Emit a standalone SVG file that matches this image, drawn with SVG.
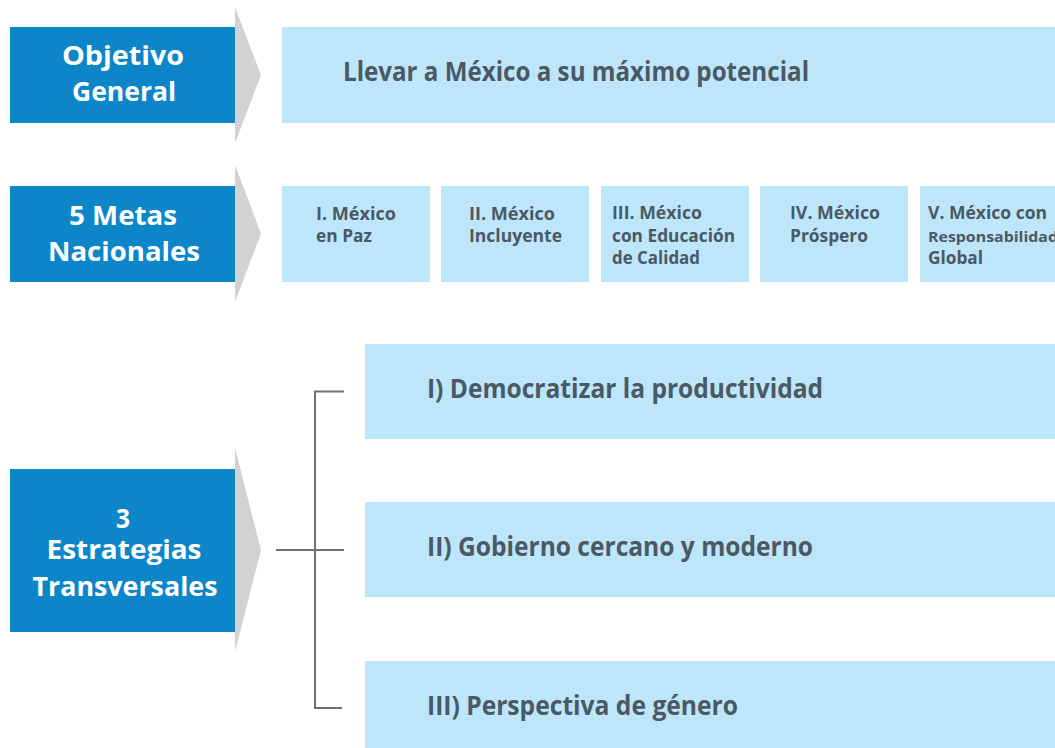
<svg xmlns="http://www.w3.org/2000/svg" width="1055" height="748" viewBox="0 0 1055 748">
<style>
.hd{fill:#0c86c8}
.tri{fill:#d2d2d2}
.lb{fill:#bee6fa}
.ht{font-family:"Open Sans",Lato,"Liberation Sans",sans-serif;font-weight:700;font-size:27px;fill:#ffffff;text-anchor:middle}
.bt{font-family:"Open Sans",Lato,"Liberation Sans",sans-serif;font-weight:700;font-size:26px;fill:#4a5963}
.st{font-family:"Open Sans",Lato,"Liberation Sans",sans-serif;font-weight:700;font-size:17px;fill:#4a5963}
.ln{stroke:#707070;stroke-width:2;fill:none}
</style>
<rect width="1055" height="748" fill="#ffffff"/>
<g id="objetivo-general">
<rect class="hd" x="10" y="27" width="225" height="96"/>
<polygon class="tri" points="235,7 261,75 235,143"/>
<text class="ht" x="123" y="65" textLength="122" lengthAdjust="spacingAndGlyphs">Objetivo</text>
<text class="ht" x="124" y="101" textLength="104" lengthAdjust="spacingAndGlyphs">General</text>
</g>
<g id="objetivo">
<rect class="lb" x="282" y="27" width="773" height="96"/>
<text class="bt" x="343" y="81" textLength="466" lengthAdjust="spacingAndGlyphs">Llevar a México a su máximo potencial</text>
</g>
<g id="metas-nacionales">
<rect class="hd" x="10" y="186" width="225" height="96"/>
<polygon class="tri" points="235,165 261,233.5 235,302"/>
<text class="ht" x="123" y="225" textLength="108" lengthAdjust="spacingAndGlyphs">5 Metas</text>
<text class="ht" x="124" y="261" textLength="152" lengthAdjust="spacingAndGlyphs">Nacionales</text>
</g>
<g id="meta-1">
<rect class="lb" x="282" y="186" width="148" height="96"/>
<text class="st" x="316" y="220" textLength="80" lengthAdjust="spacingAndGlyphs">I. México</text>
<text class="st" x="316" y="242" textLength="56" lengthAdjust="spacingAndGlyphs">en Paz</text>
</g>
<g id="meta-2">
<rect class="lb" x="441" y="186" width="148" height="96"/>
<text class="st" x="469" y="220" textLength="86" lengthAdjust="spacingAndGlyphs">II. México</text>
<text class="st" x="469" y="242" textLength="93" lengthAdjust="spacingAndGlyphs">Incluyente</text>
</g>
<g id="meta-3">
<rect class="lb" x="601" y="186" width="148" height="96"/>
<text class="st" x="612" y="219" textLength="90" lengthAdjust="spacingAndGlyphs">III. México</text>
<text class="st" x="612" y="242" textLength="123" lengthAdjust="spacingAndGlyphs">con Educación</text>
<text class="st" x="612" y="264" textLength="88" lengthAdjust="spacingAndGlyphs">de Calidad</text>
</g>
<g id="meta-4">
<rect class="lb" x="760" y="186" width="148" height="96"/>
<text class="st" x="790" y="219" textLength="90" lengthAdjust="spacingAndGlyphs">IV. México</text>
<text class="st" x="790" y="242" textLength="78" lengthAdjust="spacingAndGlyphs">Próspero</text>
</g>
<g id="meta-5">
<rect class="lb" x="920" y="186" width="148" height="96"/>
<text class="st" x="928" y="219" textLength="119" lengthAdjust="spacingAndGlyphs">V. México con</text>
<text class="st" x="928" y="242" style="font-size:15px" textLength="130" lengthAdjust="spacingAndGlyphs">Responsabilidad</text>
<text class="st" x="928" y="264" textLength="55" lengthAdjust="spacingAndGlyphs">Global</text>
</g>
<g id="estrategias-transversales">
<rect class="hd" x="10" y="469" width="225" height="163"/>
<polygon class="tri" points="235,448 261,550 235,652"/>
<text class="ht" x="123" y="528" textLength="14" lengthAdjust="spacingAndGlyphs">3</text>
<text class="ht" x="124" y="559" textLength="155" lengthAdjust="spacingAndGlyphs">Estrategias</text>
<text class="ht" x="125" y="596" textLength="185" lengthAdjust="spacingAndGlyphs">Transversales</text>
</g>
<g id="estrategia-1">
<rect class="lb" x="365" y="344" width="690" height="95"/>
<text class="bt" x="427" y="398" textLength="396" lengthAdjust="spacingAndGlyphs">I) Democratizar la productividad</text>
</g>
<g id="estrategia-2">
<rect class="lb" x="365" y="502" width="690" height="95"/>
<text class="bt" x="427" y="556" textLength="386" lengthAdjust="spacingAndGlyphs">II) Gobierno cercano y moderno</text>
</g>
<g id="estrategia-3">
<rect class="lb" x="365" y="661" width="690" height="87"/>
<text class="bt" x="427" y="715" textLength="311" lengthAdjust="spacingAndGlyphs">III) Perspectiva de género</text>
</g>
<g id="connectors">
<path class="ln" d="M344,391.5 H315 V708 H342"/>
<path class="ln" d="M276,550 H344"/>
</g>
</svg>
